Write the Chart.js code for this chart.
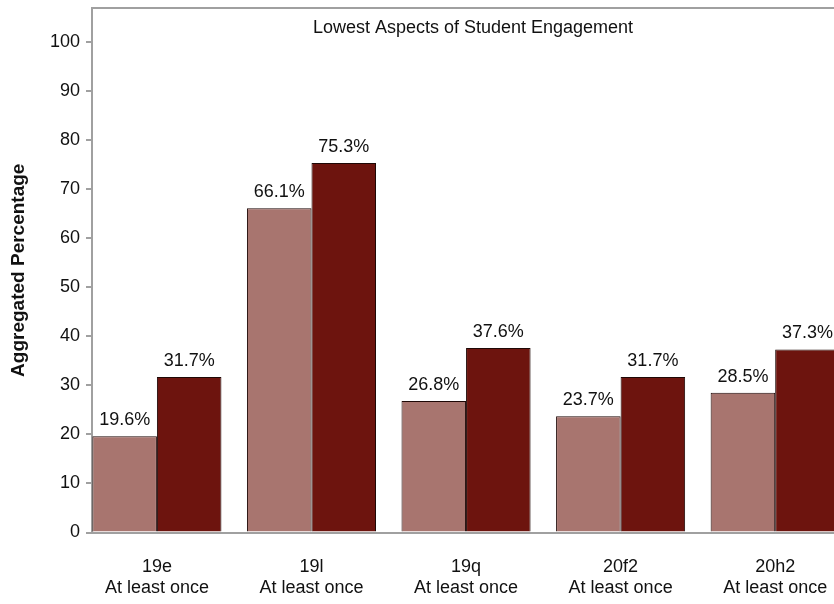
<!DOCTYPE html>
<html>
<head>
<meta charset="utf-8">
<script src="https://cdn.jsdelivr.net/npm/chart.js@4.4.0/dist/chart.umd.min.js"></script>
<style>
  html, body { margin: 0; padding: 0; background: #fff; overflow: hidden; width: 834px; height: 604px; }
  #wrap { position: absolute; left: 0; top: 0; width: 854px; height: 604px; }
</style>
</head>
<body>
<div id="wrap"><canvas id="c" width="854" height="604"></canvas></div>
<script>
const chartTitle = 'Lowest Aspects of Student Engagement';
const yAxisTitle = 'Aggregated Percentage';
const categories = ['19e', '19l', '19q', '20f2', '20h2'];
const subLabel = 'At least once';
const seriesA = [19.6, 66.1, 26.8, 23.7, 28.5];
const seriesB = [31.7, 75.3, 37.6, 31.7, 37.3];
const yTicks = [0, 10, 20, 30, 40, 50, 60, 70, 80, 90, 100];

const FONT = '"Liberation Sans", Arial, sans-serif';
const AXIS = '#a0a0a0';

const toPoints = arr => arr.map((v, i) => ({ x: i, y: v }));

const labelPlugin = {
  id: 'labels',
  afterDatasetsDraw(chart) {
    const ctx = chart.ctx;
    ctx.save();
    ctx.font = '18px ' + FONT;
    ctx.fillStyle = '#111';
    ctx.textAlign = 'center';
    ctx.textBaseline = 'alphabetic';
    chart.data.datasets.forEach((ds, di) => {
      chart.getDatasetMeta(di).data.forEach((bar, i) => {
        ctx.fillText(ds.data[i].y.toFixed(1) + '%', bar.x, bar.y - 11);
      });
    });
    const a = chart.chartArea;
    ctx.fillText(chartTitle, (a.left + a.right) / 2, a.top + 25);
    ctx.strokeStyle = AXIS;
    ctx.lineWidth = 2;
    ctx.beginPath();
    ctx.moveTo(a.left, a.top);
    ctx.lineTo(a.right, a.top);
    ctx.stroke();
    ctx.restore();
  }
};

new Chart(document.getElementById('c'), {
  type: 'bar',
  data: {
    datasets: [
      { data: toPoints(seriesA), backgroundColor: '#a8756f', borderColor: '#1e0806', borderWidth: 1 },
      { data: toPoints(seriesB), backgroundColor: '#6d140e', borderColor: '#1e0806', borderWidth: 1 }
    ]
  },
  options: {
    responsive: false,
    animation: false,
    devicePixelRatio: 1,
    categoryPercentage: 0.835,
    barPercentage: 1,
    layout: { padding: { top: 0, right: 0, left: 0, bottom: 0 } },
    plugins: { legend: { display: false }, tooltip: { enabled: false }, title: { display: false } },
    scales: {
      x: {
        type: 'linear',
        offset: false,
        min: -0.42,
        max: 4.51,
        afterBuildTicks: s => { s.ticks = categories.map((c, i) => ({ value: i })); },
        afterFit: s => { s.height = 71.5; },
        grid: { display: false, drawTicks: false, offset: false },
        border: { display: true, color: AXIS, width: 2 },
        ticks: {
          padding: 24,
          color: '#111',
          font: { family: FONT, size: 18, lineHeight: 1.17 },
          maxRotation: 0,
          autoSkip: false,
          callback: v => [categories[v], subLabel]
        }
      },
      y: {
        min: 0,
        max: 106.9,
        afterBuildTicks: s => { s.ticks = yTicks.map(v => ({ value: v })); },
        afterFit: s => { s.width = 92; s.paddingTop = 8; s.paddingBottom = 8; },
        grid: { drawOnChartArea: false, drawTicks: true, tickLength: 6, color: AXIS, lineWidth: 2 },
        border: { display: true, color: AXIS, width: 2 },
        ticks: { padding: 6, color: '#111', font: { family: FONT, size: 18 } },
        title: {
          display: true,
          text: yAxisTitle,
          color: '#111',
          font: { family: FONT, size: 19, weight: 'bold' },
          padding: { top: 7, bottom: 0 }
        }
      }
    }
  },
  plugins: [labelPlugin]
});
</script>
</body>
</html>
